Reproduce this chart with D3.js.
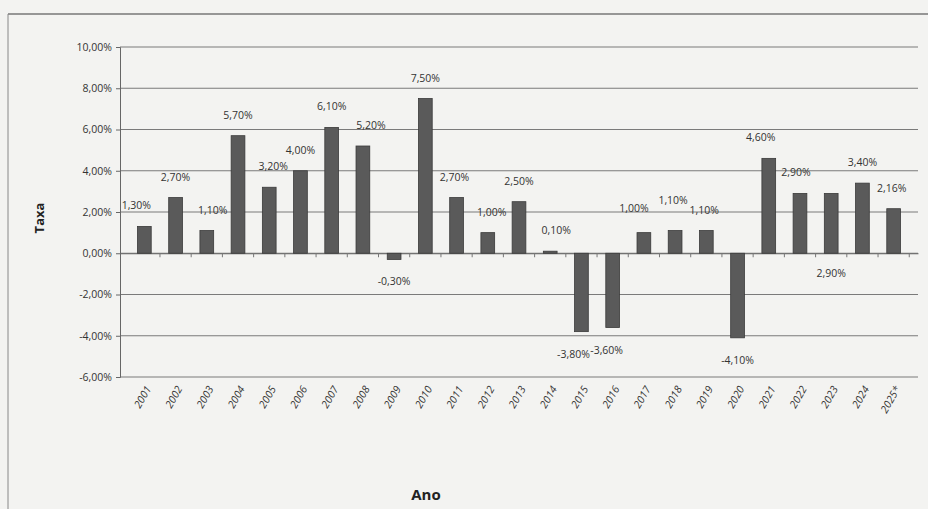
<!DOCTYPE html>
<head>
  <meta charset="utf-8">
  <script src="https://d3js.org/d3.v7.min.js"></script>
  <style>
body {
	margin:0;
	background:#f3f3f1;
	}
.tick text {
	font-family: "Open Sans", "DejaVu Sans", sans-serif;
	font-size: 10.5px;
	fill: #333;
	}
.lbl {
	font-family: "Open Sans", "DejaVu Sans", sans-serif;
	font-size: 10.5px;
	fill: #333;
	}
  </style>
</head>

<body>
  <div id="graph"></div>
<script>
// Data
var years = ["2001","2002","2003","2004","2005","2006","2007","2008","2009","2010",
             "2011","2012","2013","2014","2015","2016","2017","2018","2019","2020",
             "2021","2022","2023","2024","2025*"];
var taxa = [1.3, 2.7, 1.1, 5.7, 3.2, 4.0, 6.1, 5.2, -0.3, 7.5,
            2.7, 1.0, 2.5, 0.1, -3.8, -3.6, 1.0, 1.1, 1.1, -4.1,
            4.6, 2.9, 2.9, 3.4, 2.16];
var yTicks = [-6, -4, -2, 0, 2, 4, 6, 8, 10];

// label nudges (Excel moved some labels by hand)
var nudge = {
  "2001": [-8, 0], "2003": [6, 0], "2005": [4, 0],
  "2008": [8, 0], "2011": [-2, 0], "2012": [4, 0],
  "2014": [6, 0], "2015": [-8, 0], "2016": [-6, 0], "2017": [-10, -4],
  "2018": [-2, -10], "2019": [-2, 0], "2020": [0, 0], "2021": [-8, 0], "2022": [-4, 0],
  "2025*": [-2, 0]
};

var W = 928, H = 509;
var margin = {top: 47, right: 10, bottom: 132, left: 120},
  width = W - margin.left - margin.right,
  height = H - margin.top - margin.bottom;

var svg = d3.select("#graph").append("svg")
    .attr("width", W).attr("height", H);

// outer frame
svg.append("line").attr("x1", 8).attr("x2", W).attr("y1", 14).attr("y2", 14)
   .style("stroke", "#777").style("stroke-width", 1.5);
svg.append("line").attr("x1", 8).attr("x2", 8).attr("y1", 14).attr("y2", H)
   .style("stroke", "#888").style("stroke-width", 1);

var g = svg.append("g")
    .attr("transform", "translate(" + margin.left + "," + margin.top + ")");

var x = d3.scaleBand().domain(years).range([0, width]).padding(0.56);
var y = d3.scaleLinear().domain([-6, 10]).range([height, 0]);

// gridlines
g.selectAll(".grid").data(yTicks).enter().append("line")
  .attr("x1", 0).attr("x2", width)
  .attr("y1", function(d) { return y(d); })
  .attr("y2", function(d) { return y(d); })
  .style("stroke", "#7a7a7a").style("stroke-width", 1.2);

// y axis
var fmt = function(d) { return d.toFixed(2).replace(".", ",") + "%"; };
var yaxis = g.append("g")
  .call(d3.axisLeft(y).tickValues(yTicks).tickFormat(fmt).tickSize(4).tickPadding(4));
yaxis.select(".domain").style("stroke", "#666");
yaxis.selectAll(".tick line").style("stroke", "#666");

// x axis at zero
var xaxis = g.append("g")
  .attr("transform", "translate(0," + y(0) + ")")
  .call(d3.axisBottom(x).tickSize(0).tickFormat(""));
xaxis.select(".domain").style("stroke", "#666");
// small ticks between categories
g.selectAll(".xtick").data(years).enter().append("line")
  .attr("x1", function(d) { return x(d) + x.bandwidth() + (x.step() - x.bandwidth()) / 2; })
  .attr("x2", function(d) { return x(d) + x.bandwidth() + (x.step() - x.bandwidth()) / 2; })
  .attr("y1", y(0)).attr("y2", y(0) + 4)
  .style("stroke", "#777");

// year labels along the bottom
g.selectAll(".yl").data(years).enter().append("text")
  .attr("class", "lbl")
  .attr("transform", function(d) {
    return "translate(" + (x(d) + x.bandwidth() / 2 + 4) + "," + (height + 10) + ") rotate(-60)";
  })
  .attr("text-anchor", "end")
  .attr("dy", "0.35em")
  .style("font-style", "italic")
  .text(function(d) { return d; });

// bars
var data = years.map(function(d, i) { return {year: d, v: taxa[i]}; });
g.selectAll(".bar").data(data).enter().append("rect")
  .attr("x", function(d) { return x(d.year); })
  .attr("y", function(d) { return y(Math.max(0, d.v)); })
  .attr("width", x.bandwidth())
  .attr("height", function(d) { return Math.abs(y(d.v) - y(0)); })
  .style("fill", "#5a5a5a").style("stroke", "#3a3a3a").style("stroke-width", 0.8);

// value labels
g.selectAll(".val").data(data).enter().append("text")
  .attr("class", "lbl")
  .attr("text-anchor", "middle")
  .attr("x", function(d) {
    var n = nudge[d.year] || [0, 0];
    return x(d.year) + x.bandwidth() / 2 + n[0];
  })
  .attr("y", function(d) {
    var n = nudge[d.year] || [0, 0];
    if (d.year == "2023") return y(0) + 24;
    if (d.v < 0) return y(d.v) + 26 + n[1];
    return y(d.v) - 17 + n[1];
  })
  .text(function(d) { return d.v.toFixed(2).replace(".", ",") + "%"; });

// axis titles
svg.append("text")
  .attr("transform", "translate(44," + 218 + ") rotate(-90)")
  .attr("text-anchor", "middle")
  .style("font-family", "'Open Sans', sans-serif")
  .style("font-weight", "bold").style("font-size", "13px").style("fill", "#222")
  .text("Taxa");
svg.append("text")
  .attr("x", 426).attr("y", 500)
  .attr("text-anchor", "middle")
  .style("font-family", "'Open Sans', sans-serif")
  .style("font-weight", "bold").style("font-size", "15px").style("fill", "#222")
  .text("Ano");
</script>
</body>
